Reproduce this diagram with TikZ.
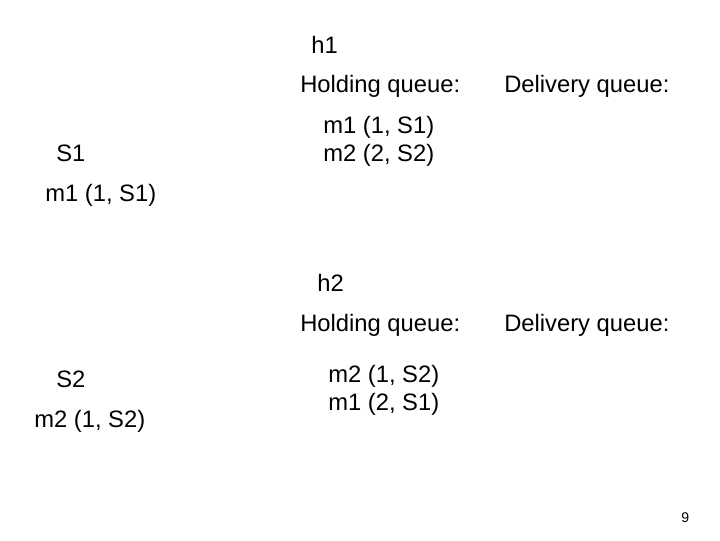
\documentclass[tikz,border=0pt]{standalone}
\usepackage{fontspec}
\setmainfont{Liberation Sans}
\usetikzlibrary{positioning}
\tikzset{
  txt/.style={
    anchor=base west, inner sep=0pt,
    font=\fontsize{16.9}{20}\selectfont, text=black,
  },
  pgno/.style={
    anchor=base west, inner sep=0pt,
    font=\fontsize{10}{12}\selectfont, text=black,
  },
}
\begin{document}
\begin{tikzpicture}[x=0.025cm,y=-0.025cm]

      \useasboundingbox[fill=white] (0,0) rectangle (720,540);

      % process h1
      \node[txt] (H1)   at (311,53)  {h1};
      \node[txt] (H1HQ) at (300,92)  {Holding queue:};
      \node[txt] (H1DQ) at (504,92)  {Delivery queue:};
      \node[txt] (H1MA) at (323,133) {m1 (1, S1)};
      \node[txt] (H1MB) at (323,161) {m2 (2, S2)};

      % sender S1
      \node[txt] (S1)   at (56,161)  {S1};
      \node[txt] (S1M)  at (45,201)  {m1 (1, S1)};

      % process h2
      \node[txt] (H2)   at (317,291) {h2};
      \node[txt] (H2HQ) at (300,331) {Holding queue:};
      \node[txt] (H2DQ) at (504,331) {Delivery queue:};
      \node[txt] (H2MA) at (328,382) {m2 (1, S2)};
      \node[txt] (H2MB) at (328,410) {m1 (2, S1)};

      % sender S2
      \node[txt] (S2)   at (56,387)  {S2};
      \node[txt] (S2M)  at (34,427)  {m2 (1, S2)};

      \node[pgno] (PG) at (681,522) {9};

    \end{tikzpicture}
\end{document}
